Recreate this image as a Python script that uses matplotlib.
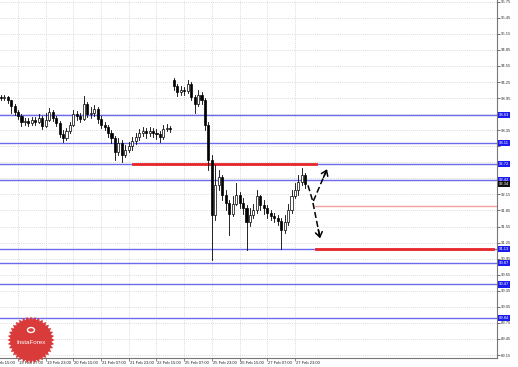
import matplotlib
matplotlib.use("Agg")
import matplotlib.pyplot as plt
import matplotlib.transforms as mtransforms
from matplotlib.patches import Rectangle, Polygon, Circle
import numpy as np

plt.rcParams['font.family'] = ['Liberation Sans', 'DejaVu Sans']

# hourly bar times, counted in trading hours from 18 Feb 15:00 (2-hour candles)
bar_hours = list(range(6, 184, 2))

first_open = 93.97
gap_open = 94.29   # monday open after the weekend gap
gap_index = 50

closes = [93.95, 93.97, 93.91, 93.80, 93.69, 93.61, 93.50, 93.52, 93.48, 93.54,
          93.50, 93.58, 93.43, 93.54, 93.69, 93.58, 93.48, 93.28, 93.20, 93.33,
          93.45, 93.65, 93.61, 93.56, 93.84, 93.65, 93.67, 93.74, 93.56, 93.45,
          93.41, 93.30, 93.20, 92.94, 93.11, 92.89, 92.98, 93.05, 93.15, 93.22,
          93.30, 93.33, 93.30, 93.33, 93.30, 93.28, 93.22, 93.37, 93.39, 93.37,
          94.17, 94.06, 94.10, 94.08, 94.21, 93.97, 93.84, 94.01, 93.91, 93.45,
          92.79, 91.76, 92.32, 92.47, 92.14, 91.99, 91.78, 91.97, 92.14, 91.99,
          91.90, 91.63, 91.76, 91.86, 92.12, 91.95, 91.90, 91.80, 91.75, 91.71,
          91.65, 91.48, 91.63, 91.86, 92.12, 92.23, 92.38, 92.51, 92.34]
highs = [94.01, 94.01, 93.99, 93.91, 93.84, 93.73, 93.65, 93.58, 93.58, 93.60,
         93.60, 93.65, 93.61, 93.67, 93.76, 93.73, 93.61, 93.52, 93.35, 93.39,
         93.50, 93.73, 93.71, 93.67, 93.99, 93.87, 93.78, 93.82, 93.78, 93.61,
         93.50, 93.45, 93.35, 93.24, 93.20, 93.17, 93.07, 93.13, 93.22, 93.30,
         93.37, 93.41, 93.39, 93.41, 93.39, 93.37, 93.33, 93.45, 93.46, 93.43,
         94.32, 94.21, 94.17, 94.15, 94.29, 94.25, 94.01, 94.10, 94.06, 93.95,
         93.50, 92.89, 92.70, 92.60, 92.51, 92.23, 92.04, 92.12, 92.36, 92.19,
         92.08, 91.95, 91.90, 91.97, 92.23, 92.14, 92.04, 91.95, 91.86, 91.80,
         91.76, 91.71, 91.76, 91.97, 92.23, 92.36, 92.51, 92.64, 92.55]
lows = [93.91, 93.91, 93.86, 93.67, 93.63, 93.56, 93.43, 93.45, 93.43, 93.45,
        93.45, 93.48, 93.37, 93.41, 93.52, 93.52, 93.43, 93.22, 93.13, 93.17,
        93.30, 93.43, 93.54, 93.50, 93.54, 93.60, 93.58, 93.61, 93.48, 93.39,
        93.35, 93.22, 93.11, 92.79, 92.89, 92.75, 92.85, 92.94, 92.98, 93.09,
        93.17, 93.24, 93.20, 93.24, 93.22, 93.18, 93.13, 93.18, 93.33, 93.31,
        94.10, 93.99, 94.01, 94.01, 94.04, 93.91, 93.67, 93.80, 93.84, 93.35,
        92.60, 90.92, 91.67, 92.23, 92.04, 91.86, 91.39, 91.75, 91.95, 91.90,
        91.78, 91.11, 91.56, 91.71, 91.80, 91.86, 91.78, 91.71, 91.67, 91.63,
        91.58, 91.13, 91.43, 91.58, 91.80, 92.08, 92.14, 92.32, 92.27]

time_labels = ["18 Feb 15:00", "19 Feb 07:00", "19 Feb 23:00", "20 Feb 15:00",
               "21 Feb 07:00", "21 Feb 23:00", "22 Feb 15:00", "25 Feb 07:00",
               "25 Feb 23:00", "26 Feb 15:00", "27 Feb 07:00", "27 Feb 23:00"]
label_hours = [16 * k for k in range(len(time_labels))]

blue_levels = [93.63, 93.11, 92.72, 92.42, 91.13, 90.87, 90.47, 89.84]
# (level, from hour, to hour)
red_thick = [(92.72, 82.4, 188.2), (91.13, 188.2, 290.4)]
red_thin = [(91.93, 187.8, 292.7)]

up_path_h = [183.5, 186.4, 194.5]
up_path_p = [92.32, 92.01, 92.62]
down_path_h = [186.4, 190.5]
down_path_p = [91.99, 91.33]

W, H = 518, 367
fig = plt.figure(figsize=(W / 100, H / 100), dpi=100)
fig.patch.set_facecolor("white")
ax = fig.add_axes([0, 9 / H, 497 / W, 358 / H])
ax.set_facecolor("white")
ax.set_xlim(5.6, 292.7)
ax.set_ylim(89.094, 95.782)

box_values = blue_levels + [closes[-1]]
yticks = np.round(np.arange(89.15, 95.76, 0.3), 2)
ax.set_yticks(yticks)
# labels hidden behind the price boxes
ax.set_yticklabels(["" if min(abs(v - b) for b in box_values) < 0.07 else "%.2f" % v
                    for v in yticks])
ax.yaxis.tick_right()
ax.tick_params(axis="y", labelsize=3, length=2, pad=1, colors="#333333", width=0.5)
ax.set_xticks(label_hours[1:])
ax.set_xticklabels([])
ax.tick_params(axis="x", length=2, width=0.5, colors="#555555")
ax.grid(True, color="#cfcfcf", linestyle=(0, (1, 1.5)), linewidth=0.6)
ax.set_axisbelow(True)
for s in ["left", "top"]:
    ax.spines[s].set_visible(False)
for s in ["right", "bottom"]:
    ax.spines[s].set_color("#777777")
    ax.spines[s].set_linewidth(0.8)

trans = mtransforms.blended_transform_factory(ax.transData, ax.transAxes)
for hh, lab in zip(label_hours, time_labels):
    ax.text(hh + 0.5, -0.013, lab, transform=trans, fontsize=3, ha="left", va="center",
            color="#222222", clip_on=False)

# level lines
for lv in blue_levels:
    ax.axhline(lv, color="#6b6bf0", linewidth=1.0, zorder=1)
for lv, h0, h1 in red_thin:
    ax.plot([h0, h1], [lv, lv], color="#f5a0a0", linewidth=1.0, zorder=2)
for lv, h0, h1 in red_thick:
    ax.plot([h0, h1], [lv, lv], color="#e8262a", linewidth=2.0, zorder=2)

# candles
opens = [first_open] + closes[:-1]
opens[gap_index] = gap_open
for t, o, hi, lo, c in zip(bar_hours, opens, highs, lows, closes):
    ax.plot([t, t], [lo, hi], color="black", linewidth=0.6, zorder=3)
    face = "white" if c >= o else "black"
    body = max(abs(c - o), 0.006)
    ax.add_patch(Rectangle((t - 0.6, min(o, c)), 1.2, body, facecolor=face,
                           edgecolor="black", linewidth=0.5, zorder=4))

# forecast arrows
ax.plot(up_path_h, up_path_p, color="black", linewidth=1.1, linestyle=(0, (4, 2)), zorder=5)
ax.plot(down_path_h, down_path_p, color="black", linewidth=1.1, linestyle=(0, (4, 2)), zorder=5)
for hs, ps in [(up_path_h, up_path_p), (down_path_h, down_path_p)]:
    ax.annotate("", xy=(hs[-1], ps[-1]),
                xytext=(hs[-1] - 0.25 * (hs[-1] - hs[-2]), ps[-1] - 0.25 * (ps[-1] - ps[-2])),
                arrowprops=dict(arrowstyle="->,head_length=0.35,head_width=0.25",
                                color="black", linewidth=1.1, shrinkA=0, shrinkB=0),
                zorder=6)

# price boxes on the right axis
ytrans = mtransforms.blended_transform_factory(ax.transAxes, ax.transData)
for lv in blue_levels:
    ax.text(1.004, lv, "%.2f" % lv, transform=ytrans,
            fontsize=3, color="white", ha="left", va="center", clip_on=False, zorder=10,
            bbox=dict(boxstyle="square,pad=0.3", facecolor="#1c1cf0", edgecolor="none"))
ax.text(1.004, closes[-1], "%.2f" % closes[-1], transform=ytrans,
        fontsize=3, color="white", ha="left", va="center", clip_on=False, zorder=10,
        bbox=dict(boxstyle="square,pad=0.3", facecolor="#111111", edgecolor="none"))

# InstaForex badge
cx, cy, r_out, r_in, n = 31, 340, 23.5, 20.5, 36
ang = np.linspace(0, 2 * np.pi, 2 * n, endpoint=False)
rad = np.where(np.arange(2 * n) % 2 == 0, r_out, r_in)
px = cx + rad * np.cos(ang)
py = cy + rad * np.sin(ang)
star = Polygon(np.column_stack([px / W, (H - py) / H]), closed=True,
               facecolor="#d93a3a", edgecolor="none", transform=fig.transFigure, zorder=20)
fig.add_artist(star)
fig.add_artist(Circle((31 / W, (H - 330) / H), 3.5 / W, transform=fig.transFigure,
                      facecolor="none", edgecolor="white", linewidth=1.0, zorder=21))
fig.text(31 / W, (H - 343) / H, "InstaForex", fontsize=4.5, color="white",
         ha="center", va="center", zorder=22)

fig.savefig("out.png", dpi=100, facecolor="white")
